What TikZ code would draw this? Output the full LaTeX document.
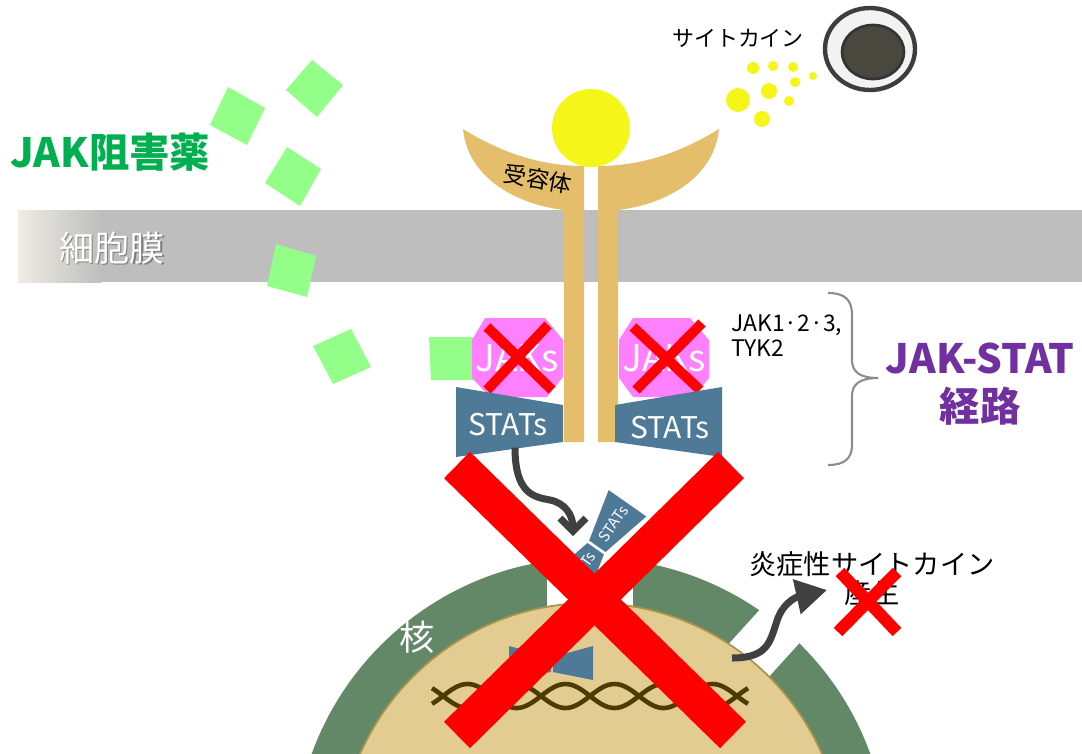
\documentclass[tikz,border=0pt]{standalone}
\usepackage{fontspec}
\setmainfont{Noto Sans CJK JP}
\usetikzlibrary{arrows.meta}

\definecolor{membrane}{HTML}{BEBEBE}
\definecolor{membraneend}{HTML}{EFECE3}
\definecolor{receptor}{HTML}{E4BE6A}
\definecolor{ligand}{HTML}{F5F519}
\definecolor{jak}{HTML}{FF80FF}
\definecolor{stat}{HTML}{4E7A98}
\definecolor{drug}{HTML}{93FF88}
\definecolor{drugtext}{HTML}{00B050}
\definecolor{pathway}{HTML}{7030A0}
\definecolor{nucring}{HTML}{628867}
\definecolor{nucin}{HTML}{E2CC92}
\definecolor{nucedge}{HTML}{A8954A}
\definecolor{dna}{HTML}{4D3B00}
\definecolor{darkarrow}{HTML}{404040}
\definecolor{cellring}{HTML}{3D3D3D}
\definecolor{cellcore}{HTML}{48483F}

\tikzset{
  fs/.style={font=\fontsize{#1}{#1}\selectfont},
  bfs/.style={font=\fontsize{#1}{#1}\selectfont\bfseries},
  block/.style={line width=0.2cm, red},
  statbox/.style={fill=stat},
  jakbox/.style={fill=jak},
}

\begin{document}
\begin{tikzpicture}[x=0.02cm, y=-0.02cm]
  \useasboundingbox (0,0) rectangle (1082,754);
  \clip (0,0) rectangle (1082,754);

  \shade[left color=membraneend, right color=membrane] (18,210) rectangle (101,282);
  \fill[membrane] (100,210) rectangle (1082,282);
  \node[fs=20, text=black, opacity=0.35] (membrane-shadow) at (113.5,249.5) {細胞膜};
  \node[fs=20, text=white] (membrane-label) at (112,248) {細胞膜};

  \fill[drug] (228,87) -- (265,108) -- (247,145) -- (210,125) -- cycle;
  \fill[drug] (286,90) -- (312,60) -- (343,85) -- (317,117) -- cycle;
  \fill[drug] (287,147) -- (321,169) -- (300,206) -- (265,183) -- cycle;
  \fill[drug] (276,244) -- (316,256) -- (307,297) -- (267,286) -- cycle;
  \fill[drug] (313,346) -- (351,329) -- (371,367) -- (333,384) -- cycle;
  \fill[drug] (429,337) -- (473,337) -- (473,380) -- (431,380) -- cycle;
  \node[bfs=23, text=drugtext, anchor=west] (drug-label) at (4,152) {JAK阻害薬};

  \fill[receptor] (463,129) .. controls (510,158) and (550,166) .. (584,166)
    -- (584,442) -- (564,442) -- (564,210) .. controls (520,205) and (468,180) .. (463,129) -- cycle;
  \fill[receptor] (719,129) .. controls (672,158) and (632,166) .. (598,166)
    -- (598,442) -- (618,442) -- (618,210) .. controls (662,205) and (714,180) .. (719,129) -- cycle;
  \fill[ligand] (591,128) circle (39);
  \node[fs=13, rotate=-10] (receptor-label) at (538,179) {受容体};

  \fill[jakbox] (485,318) -- (545,318) -- (563,340) -- (563,377) -- (547,397)
    -- (490,397) -- (472,378) -- (472,340) -- cycle;
  \fill[jakbox] (633,318) -- (690,318) -- (709,340) -- (709,378) -- (693,397)
    -- (633,397) -- (619,378) -- (619,340) -- cycle;
  \node[fs=21, text=white] (jak-left) at (517,358) {JAKs};
  \node[fs=21, text=white] (jak-right) at (664,358) {JAKs};
  \draw[block] (487,327) -- (552,390);
  \draw[block] (548,325) -- (487,390);
  \draw[block] (633,327) -- (700,390);
  \draw[block] (702,323) -- (636,390);

  \fill[statbox] (456,387) -- (563,405) -- (563,442) -- (456,457) -- cycle;
  \fill[statbox] (722,387) -- (615,405) -- (615,442) -- (722,457) -- cycle;
  \node[fs=17, text=white] (stat-left) at (508,425) {STATs};
  \node[fs=17, text=white] (stat-right) at (670,428) {STATs};

  \node[fs=13, align=left, anchor=north west] (jak-types) at (725,309) {JAK1·2·3,\\[1pt]TYK2};
  \coordinate (brace-top) at (828,293);
  \coordinate (brace-tip) at (878,378);
  \coordinate (brace-bottom) at (828,465);
  \draw[black!45, line width=1.2pt] (brace-top) .. controls (845,293) and (852,300) .. (852,315)
    -- (852,360) .. controls (852,372) and (860,378) .. (brace-tip)
    .. controls (860,378) and (852,384) .. (852,396)
    -- (852,445) .. controls (852,458) and (845,465) .. (brace-bottom);
  \node[bfs=23, text=pathway, align=center] (pathway-label) at (980,384)
    {JAK-STAT\\[4pt]経路};

  \node[fs=12.5] (cytokine-label) at (738,38) {サイトカイン};
  \filldraw[fill=black!5, draw=cellring, line width=2.5pt] (870,49) ellipse (45 and 41);
  \filldraw[fill=cellcore, draw=black!80, line width=1.5pt] (873,52) ellipse (31 and 27);
  \foreach \cx/\cy/\r in {753/68/6, 773/66/5, 793/67/5, 813/76/4, 795/82/5,
                          769/91/8, 738/100/12, 789/101/5, 762/119/8}
    \fill[ligand] (\cx,\cy) circle (\r);

  \fill[nucring] (591,855) circle (297);
  \fill[white] (547,540) rectangle (633,620);
  \fill[white] (793,573) -- (706,669) -- (746,702) -- (833,606) -- cycle;
  \filldraw[fill=nucin, draw=nucedge, line width=1pt] (591,855) circle (252);
  \node[fs=20, text=white] (nucleus-label) at (417,637) {核};

  \draw[dna, line width=2.6pt] plot[domain=-11:305, samples=160] (443+\x, {696+12*sin(\x/49*180)});
  \draw[dna, line width=2.6pt] plot[domain=-11:305, samples=160] (443+\x, {696-12*sin(\x/49*180)});

  \fill[statbox] (509,646) -- (551,657) -- (551,672) -- (509,680) -- cycle;
  \fill[statbox] (553,657) -- (593,646) -- (593,680) -- (553,672) -- cycle;

  \begin{scope}[shift={(596.5,547.5)}, rotate=55]
    \fill[statbox] (1.5,-10) -- (54,-23) -- (54,23) -- (1.5,10) -- cycle;
    \fill[statbox] (-1.5,-10) -- (-54,-23) -- (-54,23) -- (-1.5,10) -- cycle;
    \node[fs=8.5, text=white, inner sep=0pt, transform shape] (dimer-up) at (29,0) {STATs};
    \node[fs=8.5, text=white, inner sep=0pt, transform shape] (dimer-low) at (-27,0) {STATs};
  \end{scope}

  \coordinate (dimer-in) at (573,536);
  \draw[darkarrow, line width=4pt, -{Straight Barb[length=0.26cm, width=0.52cm]}]
    (stat-left.south) ++(7,5) .. controls (515,495) and (535,497) .. (550,500)
    .. controls (565,503) and (573,515) .. (dimer-in);

  \coordinate (gene-out) at (732,658);
  \coordinate (product-tip) at (827,590);
  \draw[darkarrow, line width=4pt, -{Triangle[length=0.62cm, width=0.68cm]}]
    (gene-out) .. controls (770,658) and (770,640) .. (778,618)
    .. controls (785,600) and (800,596) .. (product-tip);

  \node[fs=15.5, align=center] (product-label) at (872,579) {炎症性サイトカイン\\[1pt]産生};
  \draw[red, line width=0.24cm] (840,572) -- (897,632);
  \draw[red, line width=0.24cm] (897,572) -- (838,632);

  \draw[red, line width=0.74cm] (457,465) -- (733,735);
  \draw[red, line width=0.74cm] (731,465) -- (457,735);
\end{tikzpicture}
\end{document}
